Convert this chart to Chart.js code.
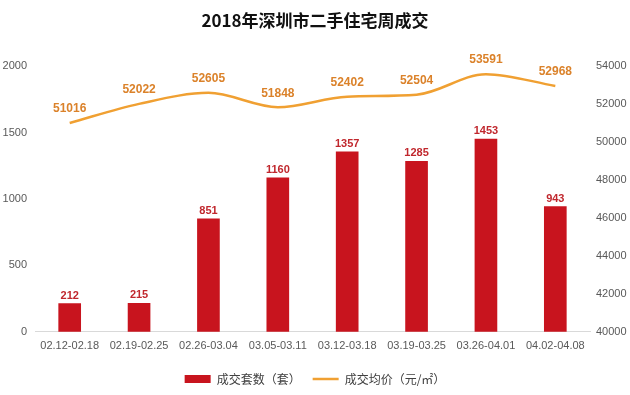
<!DOCTYPE html>
<html>
<head>
<meta charset="utf-8">
<script src="https://cdn.jsdelivr.net/npm/chart.js@4/dist/chart.umd.min.js"></script>
<style>
    html, body { margin: 0; padding: 0; background: #fff; }
    #wrap { width: 630px; height: 395px; }
</style>
</head>
<body>
<div id="wrap"><canvas id="c"></canvas></div>
<script>
const weeks = ['02.12-02.18', '02.19-02.25', '02.26-03.04', '03.05-03.11', '03.12-03.18', '03.19-03.25', '03.26-04.01', '04.02-04.08'];
const deals = [212, 215, 851, 1160, 1357, 1285, 1453, 943];
const avgPrice = [51016, 52022, 52605, 51848, 52402, 52504, 53591, 52968];
const leftTicks = [0, 500, 1000, 1500, 2000];
const rightTicks = [40000, 42000, 44000, 46000, 48000, 50000, 52000, 54000];

const tickFont = { family: '"Liberation Sans", Arial, sans-serif', size: 11 };

// draws the value labels above bars and line points
const valueLabels = {
    id: 'valueLabels',
    afterDatasetsDraw(chart) {
        const ctx = chart.ctx;
        ctx.save();
        ctx.textAlign = 'center';
        ctx.textBaseline = 'middle';
        chart.data.datasets.forEach((ds, i) => {
            const meta = chart.getDatasetMeta(i);
            meta.data.forEach((el, j) => {
                if (ds.type === 'line') {
                    ctx.font = 'bold 12px "Liberation Sans", Arial, sans-serif';
                    ctx.fillStyle = '#DB822A';
                    ctx.fillText(ds.data[j], el.x, el.y - 14);
                } else {
                    ctx.font = 'bold 11px "Liberation Sans", Arial, sans-serif';
                    ctx.fillStyle = '#C0272D';
                    ctx.fillText(ds.data[j], el.x, el.y - 8);
                }
            });
        });
        ctx.restore();
    }
};

new Chart(document.getElementById('c').getContext('2d'), {
    data: {
        labels: weeks,
        datasets: [{
            type: 'line',
            label: '成交均价（元/㎡）',
            data: avgPrice,
            yAxisID: 'y1',
            borderColor: '#F0A032',
            backgroundColor: '#F0A032',
            borderWidth: 2.5,
            pointRadius: 0,
            pointStyle: 'line',
            tension: 0.4,
            cubicInterpolationMode: 'monotone',
            order: 0
        }, {
            type: 'bar',
            label: '成交套数（套）',
            data: deals,
            yAxisID: 'y',
            backgroundColor: '#C8141E',
            barThickness: 22,
            pointStyle: 'rect',
            order: 1
        }]
    },
    options: {
        responsive: true,
        maintainAspectRatio: false,
        animation: false,
        layout: { padding: { left: 0, right: 0, top: 6, bottom: 0 } },
        plugins: {
            title: {
                display: true,
                text: '2018年深圳市二手住宅周成交',
                color: '#111',
                font: { family: 'Noto Sans CJK SC', size: 17, weight: 'bold' },
                padding: { top: 4, bottom: 36 }
            },
            legend: {
                position: 'bottom',
                reverse: true,
                labels: {
                    usePointStyle: true,
                    pointStyleWidth: 26,
                    boxHeight: 8,
                    color: '#404040',
                    padding: 12,
                    font: { family: 'Noto Sans CJK SC', size: 12 }
                }
            },
            tooltip: { enabled: false }
        },
        scales: {
            x: {
                grid: { display: false, drawTicks: false },
                border: { color: '#D9D9D9' },
                ticks: { color: '#595959', font: tickFont, padding: 8, maxRotation: 0, autoSkip: false }
            },
            y: {
                position: 'left',
                min: leftTicks[0],
                max: leftTicks[leftTicks.length - 1],
                afterBuildTicks: (axis) => { axis.ticks = leftTicks.map(v => ({ value: v })); },
                afterFit: (axis) => { axis.width = 35; },
                grid: { display: false, drawTicks: false },
                border: { display: false },
                ticks: { color: '#595959', font: tickFont, padding: 8, callback: (v) => String(v) }
            },
            y1: {
                position: 'right',
                min: rightTicks[0],
                max: rightTicks[rightTicks.length - 1],
                afterBuildTicks: (axis) => { axis.ticks = rightTicks.map(v => ({ value: v })); },
                afterFit: (axis) => { axis.width = 40; },
                grid: { display: false, drawTicks: false },
                border: { display: false },
                ticks: { color: '#595959', font: tickFont, padding: 6, callback: (v) => String(v) }
            }
        }
    },
    plugins: [valueLabels]
});
</script>
</body>
</html>
